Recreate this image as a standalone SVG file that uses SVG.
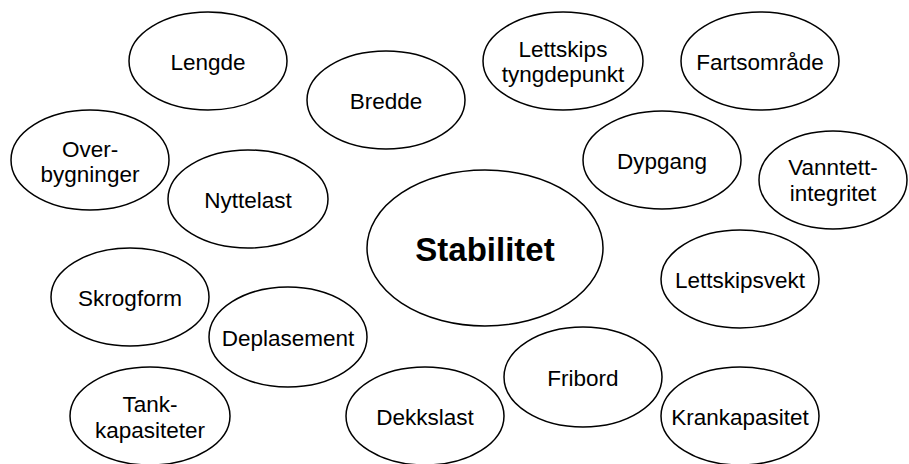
<svg xmlns="http://www.w3.org/2000/svg" width="909" height="464" viewBox="0 0 909 464">
<style>
ellipse{fill:#fff;stroke:#000;stroke-width:1.5}
text{font-family:"Liberation Sans",Arial,Helvetica,sans-serif;font-size:22.5px;fill:#000;text-anchor:middle}
.big{font-size:33px;font-weight:bold}
</style>
<rect width="909" height="464" fill="#fff"/>
<g id="connectors"></g>
<g id="lengde"><ellipse cx="208" cy="61" rx="79" ry="49"/><text x="208" y="70">Lengde</text></g>
<g id="bredde"><ellipse cx="386" cy="100" rx="79" ry="49"/><text x="386" y="109">Bredde</text></g>
<g id="lettskipstp"><ellipse cx="563" cy="61" rx="80" ry="49"/><text x="563" y="57">Lettskips</text><text x="563" y="82">tyngdepunkt</text></g>
<g id="fartsomrade"><ellipse cx="760" cy="61" rx="79" ry="49"/><text x="760" y="70">Fartsområde</text></g>
<g id="overbygninger"><ellipse cx="90" cy="160" rx="79" ry="50"/><text x="90" y="157">Over-</text><text x="90" y="182">bygninger</text></g>
<g id="nyttelast"><ellipse cx="248" cy="199" rx="80" ry="49"/><text x="248" y="208">Nyttelast</text></g>
<g id="dypgang"><ellipse cx="662" cy="160" rx="79" ry="49"/><text x="662" y="169">Dypgang</text></g>
<g id="vanntett"><ellipse cx="833" cy="180" rx="74" ry="49"/><text x="833" y="175">Vanntett-</text><text x="833" y="201">integritet</text></g>
<g id="stabilitet"><ellipse cx="485" cy="248" rx="118" ry="78"/><text class="big" x="485" y="261">Stabilitet</text></g>
<g id="skrogform"><ellipse cx="130" cy="297" rx="79" ry="49"/><text x="130" y="306">Skrogform</text></g>
<g id="lettskipsvekt"><ellipse cx="740" cy="279" rx="79" ry="49"/><text x="740" y="288">Lettskipsvekt</text></g>
<g id="deplasement"><ellipse cx="288" cy="337" rx="79" ry="50"/><text x="288" y="346">Deplasement</text></g>
<g id="fribord"><ellipse cx="583" cy="377" rx="79" ry="50"/><text x="583" y="386">Fribord</text></g>
<g id="tankkapasiteter"><ellipse cx="150" cy="416" rx="80" ry="49"/><text x="150" y="412">Tank-</text><text x="150" y="438">kapasiteter</text></g>
<g id="dekkslast"><ellipse cx="425" cy="416" rx="79" ry="49"/><text x="425" y="425">Dekkslast</text></g>
<g id="krankapasitet"><ellipse cx="740" cy="416" rx="79" ry="49"/><text x="740" y="425">Krankapasitet</text></g>
</svg>
